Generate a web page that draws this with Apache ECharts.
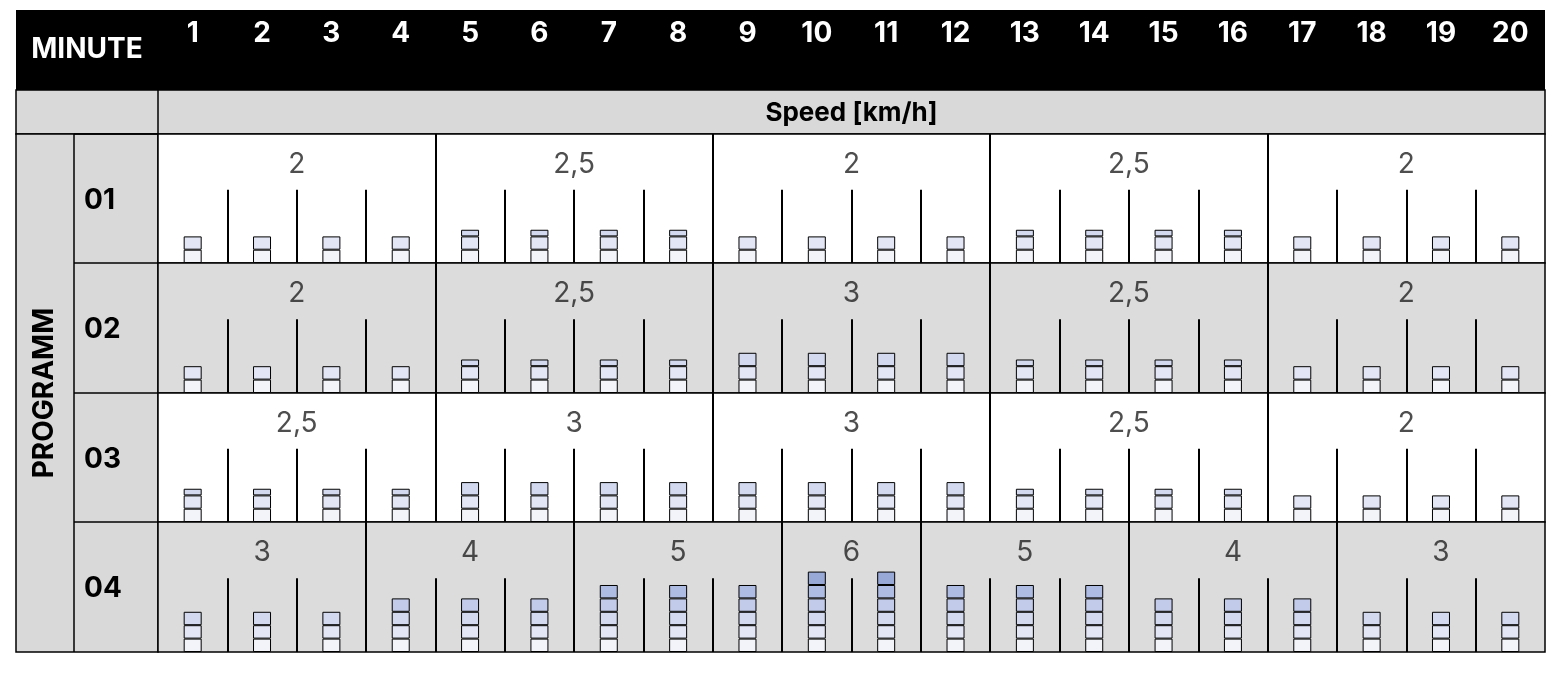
<!DOCTYPE html>
<html><head><meta charset="utf-8">
<script src="https://cdn.jsdelivr.net/npm/echarts@6/dist/echarts.min.js"></script>
<style>html,body{margin:0;padding:0;background:#fff}#c{width:1565px;height:677px}</style>
</head><body><div id="c"></div>
<script>
const minutes = ['1','2','3','4','5','6','7','8','9','10','11','12','13','14','15','16','17','18','19','20'];
const programs = ['01','02','03','04'];
const groupSpeeds = [
  [2, 2.5, 2, 2.5, 2],
  [2, 2.5, 3, 2.5, 2],
  [2.5, 3, 3, 2.5, 2],
  [3, 4, 5, 6, 5, 4, 3]
];
const groupLengths = [
  [4, 4, 4, 4, 4],
  [4, 4, 4, 4, 4],
  [4, 4, 4, 4, 4],
  [3, 3, 3, 2, 3, 3, 3]
];
const segColors = ['#f3f4fa','#e3e7f5','#d3daf0','#c2cbea','#aebbe2','#98a9d8'];

const L = 158, R = 1545;
const rowTops = [134, 263, 393, 522];
const rowH = [129, 130, 129, 130];
const rowBg = ['#ffffff','#dcdcdc','#ffffff','#dcdcdc'];
const YMAX = 9.7;

const grids = [], xAxes = [], yAxes = [], series = [];
grids.push({left: L, width: R - L, top: 10, height: 80, show: false});
xAxes.push({gridIndex: 0, type: 'category', data: minutes, position: 'top', offset: -46,
  axisLine: {show: false}, axisTick: {show: false},
  axisLabel: {color: '#fff', fontSize: 28, fontWeight: 'bold', fontFamily: 'Inter'}});
yAxes.push({gridIndex: 0, show: false});

programs.forEach((p, k) => {
  const gi = k + 1;
  grids.push({left: L, width: R - L, top: rowTops[k], height: rowH[k], show: true,
    backgroundColor: rowBg[k], borderColor: '#000', borderWidth: 1.5});
  const catIdx = xAxes.length;
  xAxes.push({gridIndex: gi, type: 'category', data: minutes, show: false});
  const valIdx = xAxes.length;
  xAxes.push({gridIndex: gi, type: 'value', min: 0, max: 20, show: false});
  yAxes.push({gridIndex: gi, type: 'value', min: 0, max: YMAX, show: false});
  const sp = [], labels = [], lines = [];
  let pos = 0;
  groupSpeeds[k].forEach((s, g) => {
    const n = groupLengths[k][g];
    labels.push([pos + n / 2, 7.4, s]);
    for (let i = 0; i < n; i++) {
      sp.push(s);
      if (i > 0) lines.push([{coord: [pos + i, 0]}, {coord: [pos + i, 5.5]}]);
    }
    if (pos > 0) lines.push([{coord: [pos, 0]}, {coord: [pos, YMAX]}]);
    pos += n;
  });
  for (let s = 0; s < 6; s++) {
    series.push({type: 'bar', xAxisIndex: catIdx, yAxisIndex: k + 1, stack: 'p' + k, barWidth: 18,
      itemStyle: {color: segColors[s], borderColor: '#000', borderWidth: 1},
      data: sp.map(v => { const h = Math.max(0, Math.min(1, v - s)); return h > 0 ? h : null; }),
      silent: true});
  }
  series.push({type: 'scatter', xAxisIndex: valIdx, yAxisIndex: k + 1, symbolSize: 0,
    data: labels,
    label: {show: true, position: 'inside', fontSize: 28, color: '#222', fontFamily: 'Inter',
      formatter: d => String(d.value[2]).replace('.', ',')},
    markLine: {symbol: 'none', silent: true, label: {show: false},
      lineStyle: {color: '#000', width: 2, type: 'solid'}, data: lines}});
});

const graphic = [
  {type: 'rect', shape: {x: 16, y: 10, width: R - 16, height: 80}, style: {fill: '#000'}, z: -10},
  {type: 'text', x: 87, y: 50, style: {text: 'MINUTE', fill: '#fff', font: 'bold 28px Inter', align: 'center', verticalAlign: 'middle'}, z: 10},
  {type: 'rect', shape: {x: 16, y: 90, width: R - 16, height: 44}, style: {fill: '#d9d9d9', stroke: '#000', lineWidth: 1.5}, z: -10},
  {type: 'line', shape: {x1: L, y1: 90, x2: L, y2: 134}, style: {stroke: '#000', lineWidth: 1.5}},
  {type: 'text', x: (L + R) / 2, y: 113, style: {text: 'Speed [km/h]', fill: '#000', font: 'bold 26px Inter', align: 'center', verticalAlign: 'middle'}},
  {type: 'rect', shape: {x: 16, y: 134, width: L - 16, height: 518}, style: {fill: '#d9d9d9', stroke: '#000', lineWidth: 1.5}, z: -10},
  {type: 'line', shape: {x1: 74, y1: 134, x2: 74, y2: 652}, style: {stroke: '#000', lineWidth: 1.5}},
  {type: 'text', x: 45, y: 393, rotation: Math.PI / 2, style: {text: 'PROGRAMM', fill: '#000', font: 'bold 28px Inter', align: 'center', verticalAlign: 'middle'}}
];
programs.forEach((p, k) => {
  graphic.push({type: 'text', x: 84, y: rowTops[k] + rowH[k] / 2 + 2, style: {text: p, fill: '#000', font: 'bold 28px Inter', align: 'left', verticalAlign: 'middle'}});
  graphic.push({type: 'line', shape: {x1: 74, y1: rowTops[k], x2: L, y2: rowTops[k]}, style: {stroke: '#000', lineWidth: 1.5}});
});

const chart = echarts.init(document.getElementById('c'));
chart.setOption({animation: false, backgroundColor: '#fff', grid: grids, xAxis: xAxes, yAxis: yAxes, series, graphic});
</script></body></html>
